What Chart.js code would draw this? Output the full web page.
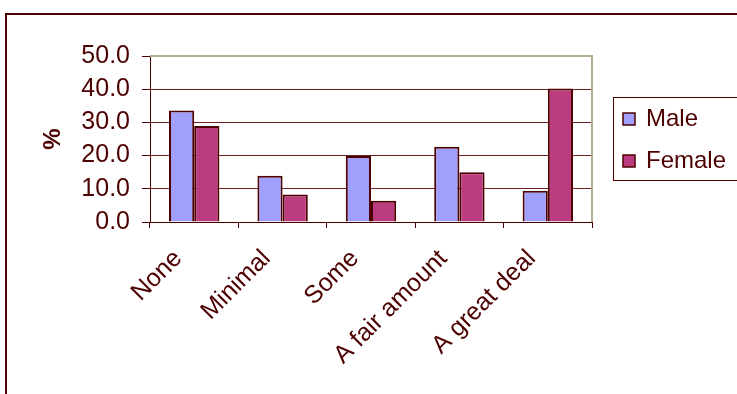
<!DOCTYPE html>
<html>
<head>
<meta charset="utf-8">
<title>Involvement by gender</title>
<script src="https://cdn.jsdelivr.net/npm/chart.js@4.4.1/dist/chart.umd.min.js"></script>
<style>
  html, body { margin: 0; padding: 0; background: #fff; }
  #wrap { width: 737px; height: 394px; }
</style>
</head>
<body>
<div id="wrap"><canvas id="genderChart" width="737" height="394"></canvas></div>
<script>
// Response categories and percentage per gender
const categories = ['None', 'Minimal', 'Some', 'A fair amount', 'A great deal'];
const maleValues = [33.6, 13.9, 19.9, 22.7, 9.4];
const femaleValues = [28.9, 8.3, 6.4, 15.0, 40.2];
const yTicks = [0, 10, 20, 30, 40, 50];

const INK = '#4d0000';
const GRID = '#6b2020';
const PLOT_EDGE = '#b3ab95';
const FONT = 'Arial, "Liberation Sans", sans-serif';

// outer frame + top/right plot edge
const framePlugin = {
  id: 'frame',
  beforeDraw(chart) {
    const ctx = chart.ctx;
    ctx.save();
    ctx.strokeStyle = INK;
    ctx.lineWidth = 2;
    ctx.beginPath();
    ctx.moveTo(6, chart.height + 2);
    ctx.lineTo(6, 14);
    ctx.lineTo(chart.width + 2, 14);
    ctx.stroke();
    ctx.restore();
  },
  afterDatasetsDraw(chart) {
    const a = chart.chartArea;
    const ctx = chart.ctx;
    ctx.save();
    ctx.strokeStyle = PLOT_EDGE;
    ctx.lineWidth = 2;
    ctx.beginPath();
    ctx.moveTo(a.left, a.top);
    ctx.lineTo(a.right, a.top);
    ctx.lineTo(a.right, a.bottom);
    ctx.stroke();
    ctx.restore();
  }
};

// boxed legend on the right, built from the datasets
const boxLegend = {
  id: 'boxLegend',
  afterDraw(chart) {
    const ctx = chart.ctx;
    const x = 613, y = 97, w = 140, h = 83;
    ctx.save();
    ctx.strokeStyle = INK;
    ctx.lineWidth = 1;
    ctx.strokeRect(x + 0.5, y + 0.5, w, h);
    ctx.font = '24px ' + FONT;
    ctx.textBaseline = 'middle';
    chart.data.datasets.forEach((ds, i) => {
      const cy = y + 22 + i * 42;
      ctx.fillStyle = ds.backgroundColor;
      ctx.fillRect(623, cy - 6, 12, 12);
      ctx.strokeStyle = INK;
      ctx.lineWidth = 1.5;
      ctx.strokeRect(623, cy - 6, 12, 12);
      ctx.fillStyle = INK;
      ctx.fillText(ds.label, 646, cy);
    });
    ctx.restore();
  }
};

new Chart(document.getElementById('genderChart'), {
  type: 'bar',
  data: {
    labels: categories,
    datasets: [
      { label: 'Male', data: maleValues, backgroundColor: '#a0a0fc', borderColor: INK, borderWidth: 2 },
      { label: 'Female', data: femaleValues, backgroundColor: '#bc3c80', borderColor: INK, borderWidth: 2 }
    ]
  },
  options: {
    responsive: false,
    animation: false,
    layout: { padding: { left: 39, top: 56, right: 145, bottom: 0 } },
    datasets: { bar: { barPercentage: 1.0, categoryPercentage: 0.57 } },
    plugins: { legend: { display: false }, tooltip: { enabled: false } },
    scales: {
      x: {
        offset: true,
        grid: { display: true, drawOnChartArea: false, offset: true, color: INK, tickLength: 6, tickColor: INK },
        border: { color: INK, width: 1 },
        ticks: {
          color: INK, font: { family: FONT, size: 25 },
          minRotation: 45, maxRotation: 45, padding: 16, labelOffset: -16, autoSkip: false
        },
        afterFit(scale) { scale.height = 172; }
      },
      y: {
        min: 0, max: 50,
        afterBuildTicks(scale) { scale.ticks = yTicks.map(v => ({ value: v })); },
        grid: {
          color: (c) => c.tick && c.tick.value === 50 ? PLOT_EDGE : GRID,
          lineWidth: 1, tickLength: 8, tickColor: INK
        },
        border: { color: INK, width: 1 },
        ticks: {
          color: INK, font: { family: FONT, size: 25 }, padding: 12,
          callback: (v) => Number(v).toFixed(1)
        },
        title: {
          display: true, text: '%', color: INK,
          font: { family: FONT, size: 24, weight: 'bold' }, padding: 0
        },
        afterFit(scale) { scale.width = 111; }
      }
    }
  },
  plugins: [framePlugin, boxLegend]
});
</script>
</body>
</html>
